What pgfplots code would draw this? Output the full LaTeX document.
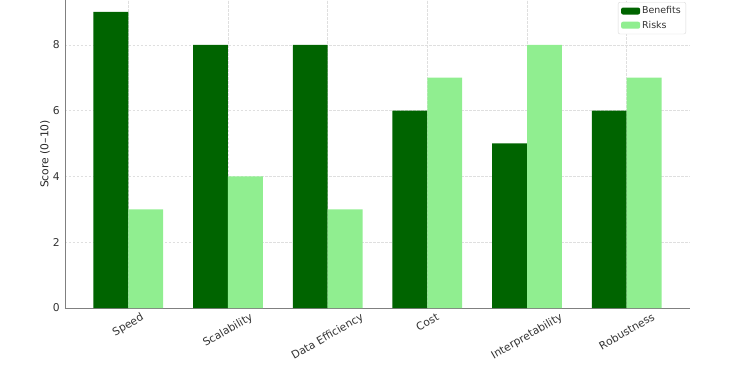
\documentclass[border=0pt]{standalone}
\usepackage{fontspec}
\setmainfont{DejaVu Sans}
\usepackage{graphicx}
\usepackage{pgfplots}
\pgfplotsset{compat=1.18}
\definecolor{dg}{HTML}{006400}
\definecolor{lg}{HTML}{90EE90}
\begin{document}
\begin{tikzpicture}
\path[use as bounding box] (-65bp,-68bp) rectangle (681bp,308bp);
\begin{axis}[at={(0,0)}, anchor=south west, scale only axis,
  width=625bp, height=308bp,
  xmin=-0.635, xmax=5.635, ymin=0, ymax=9.36,
  ybar, bar width=0.35,
  xtick={0,1,2,3,4,5},
  xticklabels={\rotatebox{30}{Speed},\rotatebox{30}{Scalability},\rotatebox{30}{Data Efficiency},\rotatebox{30}{Cost},\rotatebox{30}{Interpretability},\rotatebox{30}{Robustness}},
  ytick={0,2,4,6,8},
  axis x line*=bottom, axis y line*=left,
  axis line style={gray, line width=0.8bp},
  major tick length=0pt,
  grid=major, grid style={dash pattern=on 2.5bp off 1.5bp, gray!25, line width=0.5bp},
  /pgf/number format/assume math mode=true,
  tick label style={font=\fontsize{10.8}{12}\selectfont, text=black!80},
  xticklabel style={anchor=north, inner sep=2bp, yshift=-2bp},
  yticklabel style={anchor=east, inner sep=2bp, xshift=-3bp},
  ylabel={Score (0--10)},
  ylabel style={at={(axis description cs:-0.032,0.5)}, anchor=center, font=\fontsize{10.8}{12}\selectfont, text=black!85},
  legend style={at={(0.9936,0.9935)}, anchor=north east, draw=gray!30, rounded corners=2bp,
    fill=white, font=\fontsize{9.5}{10.5}\selectfont, text=black!80, inner xsep=3bp, inner ysep=2.5bp,
    row sep=1.5bp},
  legend cell align=left,
  legend image code/.code={\fill[#1] (0bp,-3.5bp) rectangle (19bp,3.5bp);},
]
\addplot[fill=dg, draw=none, bar shift=-0.175] coordinates {(0,9) (1,8) (2,8) (3,6) (4,5) (5,6)};
\addlegendentry{Benefits}
\addplot[fill=lg, draw=none, bar shift=0.175] coordinates {(0,3) (1,4) (2,3) (3,7) (4,8) (5,7)};
\addlegendentry{Risks}
\end{axis}
\end{tikzpicture}
\end{document}
